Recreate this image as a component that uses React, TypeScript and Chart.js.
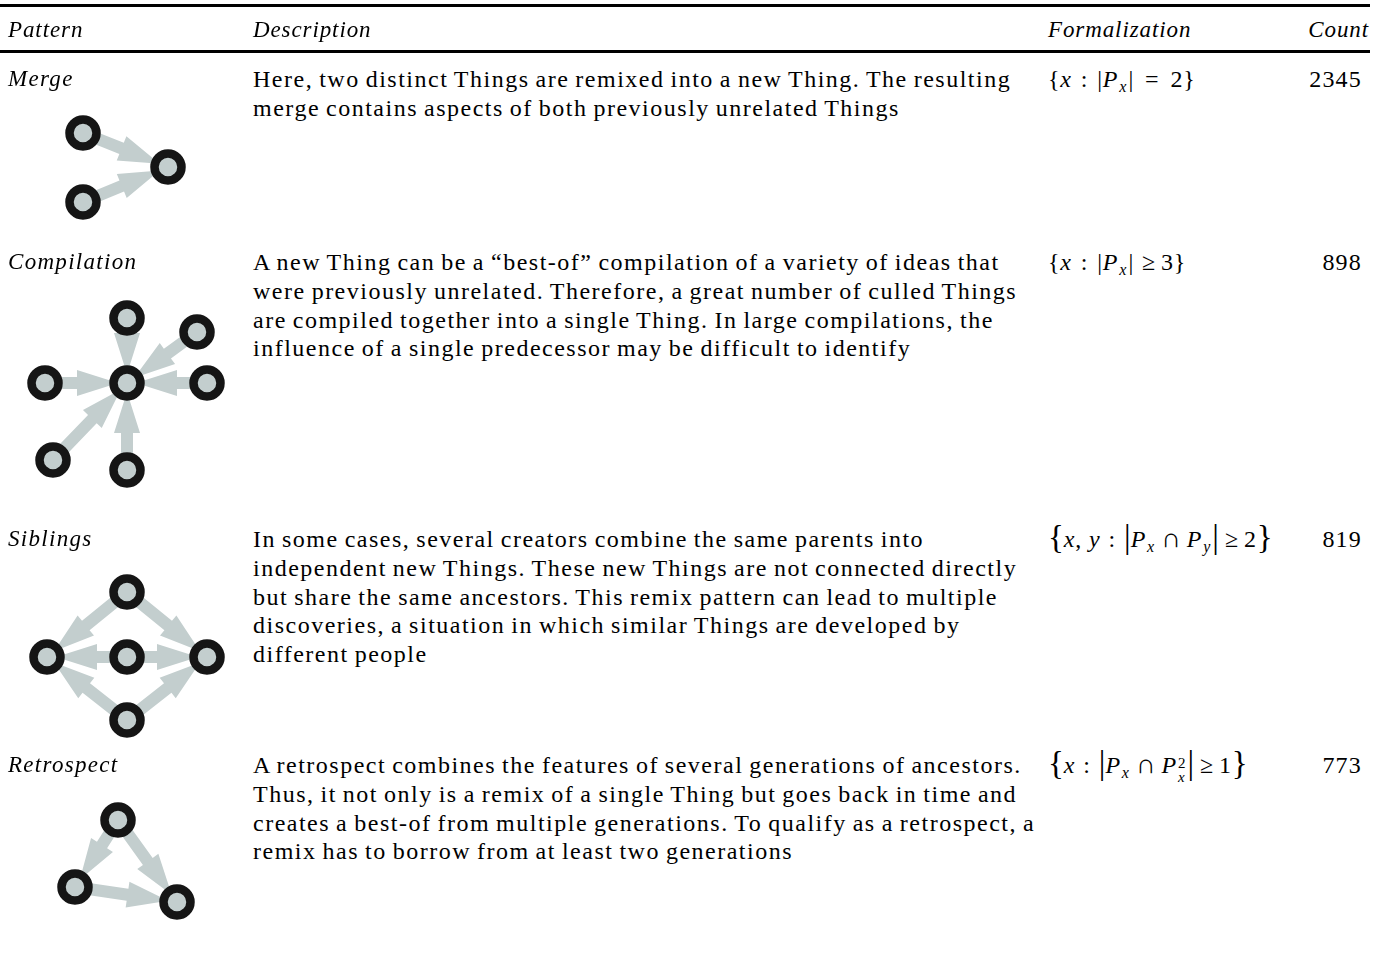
import React, { useEffect, useRef } from "react";
import { Chart, registerables } from "chart.js";

Chart.register(...registerables);

// ---------- DATA ----------
const headers = ["Pattern", "Description", "Formalization", "Count"];
const patternNames = ["Merge", "Compilation", "Siblings", "Retrospect"];
const counts = [2345, 898, 819, 773];

const mergeText = [
  "Here, two distinct Things are remixed into a new Thing. The resulting",
  "merge contains aspects of both previously unrelated Things",
];
const compilationText = [
  "A new Thing can be a \u201Cbest-of\u201D compilation of a variety of ideas that",
  "were previously unrelated. Therefore, a great number of culled Things",
  "are compiled together into a single Thing. In large compilations, the",
  "influence of a single predecessor may be difficult to identify",
];
const siblingsText = [
  "In some cases, several creators combine the same parents into",
  "independent new Things. These new Things are not connected directly",
  "but share the same ancestors. This remix pattern can lead to multiple",
  "discoveries, a situation in which similar Things are developed by",
  "different people",
];
const retrospectText = [
  "A retrospect combines the features of several generations of ancestors.",
  "Thus, it not only is a remix of a single Thing but goes back in time and",
  "creates a best-of from multiple generations. To qualify as a retrospect, a",
  "remix has to borrow from at least two generations",
];

// Graph layouts (layout units) and edges (source -> target)
const mergeNodesX = [83, 168, 83];
const mergeNodesY = [133, 167, 202];
const mergeEdges = [[0, 1], [2, 1]];

const compilationNodesX = [127, 127, 197, 45, 207, 53, 127];
const compilationNodesY = [383, 318, 332, 383, 383, 460, 470];
const compilationEdges = [[1, 0], [2, 0], [3, 0], [4, 0], [5, 0], [6, 0]];

const siblingsNodesX = [127, 47, 127, 207, 127];
const siblingsNodesY = [592, 657, 657, 657, 720];
const siblingsEdges = [[0, 1], [0, 3], [2, 1], [2, 3], [4, 1], [4, 3]];

const retrospectNodesX = [118, 75, 177];
const retrospectNodesY = [820, 887, 902];
const retrospectEdges = [[0, 1], [0, 2], [1, 2]];

// ---------- STYLE ----------
const SERIF = "'Liberation Serif', 'Times New Roman', serif";
const NODE_FILL = "#c3cece";
const NODE_BORDER = "#151515";
const ARROW = "#c3cece";
const FONT = 24;
const LINE_H = 28.7;
const LETTER = "1.5px";
const WORD = "-1.5px";

const diagramNodes = [
  [mergeNodesX, mergeNodesY],
  [compilationNodesX, compilationNodesY],
  [siblingsNodesX, siblingsNodesY],
  [retrospectNodesX, retrospectNodesY],
];
const diagramEdges = [mergeEdges, compilationEdges, siblingsEdges, retrospectEdges];

const arrowPlugin = {
  id: "arrows",
  beforeDatasetsDraw(chart: any) {
    const ctx = chart.ctx;
    const xs = chart.scales.x;
    const ys = chart.scales.y;
    ctx.save();
    ctx.fillStyle = ARROW;
    chart.data.datasets.forEach((ds: any, di: number) => {
      const edges = diagramEdges[di];
      edges.forEach(([s, t]: number[]) => {
        const a = ds.data[s];
        const b = ds.data[t];
        const x1 = xs.getPixelForValue(a.x);
        const y1 = ys.getPixelForValue(a.y);
        const x2 = xs.getPixelForValue(b.x);
        const y2 = ys.getPixelForValue(b.y);
        const dx = x2 - x1;
        const dy = y2 - y1;
        const len = Math.hypot(dx, dy);
        const ux = dx / len;
        const uy = dy / len;
        const nx = -uy;
        const ny = ux;
        const tipX = x2 - ux * 9;
        const tipY = y2 - uy * 9;
        const headLen = 41;
        const bx = tipX - ux * headLen;
        const by = tipY - uy * headLen;
        const sw = 6;
        const hw = 13;
        ctx.beginPath();
        ctx.moveTo(x1 + nx * sw, y1 + ny * sw);
        ctx.lineTo(bx + nx * sw, by + ny * sw);
        ctx.lineTo(bx + nx * hw, by + ny * hw);
        ctx.lineTo(tipX, tipY);
        ctx.lineTo(bx - nx * hw, by - ny * hw);
        ctx.lineTo(bx - nx * sw, by - ny * sw);
        ctx.lineTo(x1 - nx * sw, y1 - ny * sw);
        ctx.closePath();
        ctx.fill();
      });
    });
    ctx.restore();
  },
};

function Diagrams() {
  const ref = useRef<HTMLCanvasElement | null>(null);
  useEffect(() => {
    if (!ref.current) return;
    const datasets = diagramNodes.map(([xs, ys], i) => ({
      label: patternNames[i],
      data: xs.map((x, k) => ({ x, y: ys[k] })),
      pointRadius: 13.5,
      pointHoverRadius: 13.5,
      pointBorderWidth: 8.5,
      pointBackgroundColor: NODE_FILL,
      pointBorderColor: NODE_BORDER,
      showLine: false,
      clip: false,
    }));
    const chart = new Chart(ref.current, {
      type: "scatter",
      data: { datasets },
      options: {
        responsive: false,
        animation: false,
        events: [],
        layout: { padding: 0, autoPadding: false },
        plugins: { legend: { display: false }, tooltip: { enabled: false } },
        scales: {
          x: { type: "linear", min: 0, max: 250, display: false },
          y: { type: "linear", min: 0, max: 971, reverse: true, display: false },
        },
      } as any,
      plugins: [arrowPlugin],
    });
    return () => chart.destroy();
  }, []);
  return (
    <canvas
      ref={ref}
      width={250}
      height={971}
      style={{ position: "absolute", left: 0, top: 0, width: 250, height: 971 }}
    />
  );
}

const sub: React.CSSProperties = {
  fontSize: 16,
  position: "relative",
  top: 5,
  fontStyle: "italic",
  letterSpacing: 0,
  marginLeft: 1,
  marginRight: 2,
};
const big: React.CSSProperties = { fontSize: 33, position: "relative", top: 1, lineHeight: "10px", letterSpacing: 0 };
const cap: React.CSSProperties = { fontSize: 27, lineHeight: "10px", letterSpacing: 0 };
const sp = (w: number) => <span style={{ display: "inline-block", width: w }} />;

function Formula({ i }: { i: number }) {
  if (i === 0)
    return (
      <span>
        {"{"}<i>x</i>{sp(9)}:{sp(9)}|<i>P</i><span style={sub}>x</span>|{sp(11)}={sp(11)}2{"}"}
      </span>
    );
  if (i === 1)
    return (
      <span>
        {"{"}<i>x</i>{sp(9)}:{sp(9)}|<i>P</i><span style={sub}>x</span>|{sp(8)}≥{sp(5)}3{"}"}
      </span>
    );
  if (i === 2)
    return (
      <span>
        <span style={big}>{"{"}</span><i>x</i>,{sp(7)}<i>y</i>{sp(8)}:{sp(8)}<span style={big}>|</span><i>P</i>
        <span style={sub}>x</span>{sp(5)}<span style={cap}>∩</span>{sp(6)}<i>P</i><span style={sub}>y</span>
        <span style={big}>|</span>{sp(6)}≥{sp(5)}2<span style={big}>{"}"}</span>
      </span>
    );
  return (
    <span>
      <span style={big}>{"{"}</span><i>x</i>{sp(8)}:{sp(8)}<span style={big}>|</span><i>P</i>
      <span style={sub}>x</span>{sp(5)}<span style={cap}>∩</span>{sp(6)}<i>P</i>
      <span
        style={{
          display: "inline-flex",
          flexDirection: "column",
          verticalAlign: "middle",
          fontSize: 15,
          lineHeight: "14px",
          letterSpacing: 0,
          position: "relative",
          top: 2,
          marginLeft: 1,
          marginRight: 2,
        }}
      >
        <span>2</span>
        <span style={{ fontStyle: "italic" }}>x</span>
      </span>
      <span style={big}>|</span>{sp(6)}≥{sp(5)}1<span style={big}>{"}"}</span>
    </span>
  );
}

const descriptions = [mergeText, compilationText, siblingsText, retrospectText];
const rowCenters = [80, 263, 540, 766];

export default function App() {
  const lineStyle = (cy: number, left: number): React.CSSProperties => ({
    position: "absolute",
    left,
    top: cy - LINE_H / 2 - 0.5,
    height: LINE_H,
    lineHeight: `${LINE_H}px`,
    whiteSpace: "nowrap",
    fontSize: FONT,
    letterSpacing: LETTER,
    wordSpacing: WORD,
  });
  const labelStyle = (cy: number, left: number): React.CSSProperties => ({
    ...lineStyle(cy, left),
    fontSize: 23,
    fontStyle: "italic",
    letterSpacing: "1.3px",
    wordSpacing: 0,
  });
  return (
    <div
      style={{
        position: "absolute",
        left: 0,
        top: 0,
        width: 1388,
        height: 971,
        overflow: "hidden",
        background: "#fff",
        fontFamily: SERIF,
        color: "#000",
      }}
    >
      <Diagrams />
      <div style={{ position: "absolute", left: 0, top: 4, width: 1370, height: 2.5, background: "#000" }} />
      <div style={{ position: "absolute", left: 0, top: 50, width: 1370, height: 2.5, background: "#000" }} />
      <div style={{ ...labelStyle(31, 8), letterSpacing: "0.9px" }}>{headers[0]}</div>
      <div style={{ ...labelStyle(31, 253), letterSpacing: "0.9px" }}>{headers[1]}</div>
      <div style={{ ...labelStyle(31, 1048), letterSpacing: "0.9px" }}>{headers[2]}</div>
      <div style={{ ...labelStyle(31, 0), left: undefined, right: 1388 - 1369, letterSpacing: "0.9px" }}>
        {headers[3]}
      </div>
      {patternNames.map((p, i) => (
        <React.Fragment key={p}>
          <div style={labelStyle(rowCenters[i], 8)}>{p}</div>
          {descriptions[i].map((ln, k) => (
            <div key={k} style={lineStyle(rowCenters[i] + k * LINE_H, 253)}>
              {ln}
            </div>
          ))}
          <div style={{ ...lineStyle(rowCenters[i], 1048), letterSpacing: "0.8px", wordSpacing: 0 }}>
            <Formula i={i} />
          </div>
          <div
            style={{
              ...lineStyle(rowCenters[i], 0),
              left: undefined,
              right: 1388 - 1362,
              letterSpacing: "1.2px",
              wordSpacing: 0,
            }}
          >
            {counts[i]}
          </div>
        </React.Fragment>
      ))}
    </div>
  );
}
